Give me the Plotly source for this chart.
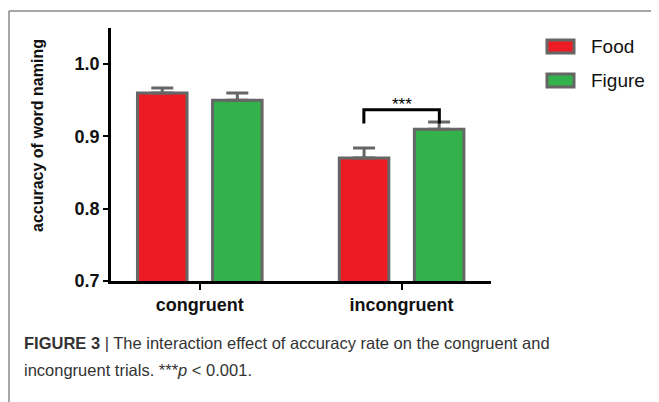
import plotly.graph_objects as go

# ---- data ----
categories = ["congruent", "incongruent"]
food_values = [0.96, 0.87]
food_errors = [0.007, 0.014]
figure_values = [0.95, 0.91]
figure_errors = [0.010, 0.010]
y_ticks = [0.7, 0.8, 0.9, 1.0]
y_tick_labels = ["0.7", "0.8", "0.9", "1.0"]

PAGE_W, PAGE_H = 659, 402
OFF = 8  # default page body margin
W, H = PAGE_W - OFF, PAGE_H - OFF
L, R, T, B = 111, 491, 28, 281  # plot area bounds in page pixels

def px(x):
    return (x - L) / (R - L)

def py(y):
    return (B - y) / (B - T)

RED = "#ED1C24"
GREEN = "#33B24B"
EDGE = "#666666"
FONT = "Liberation Sans, Arial, sans-serif"

xpos = list(range(len(categories)))

fig = go.Figure()
fig.add_trace(go.Bar(
    x=xpos, y=food_values, name="Food",
    marker=dict(color=RED, line=dict(color=EDGE, width=3)),
    error_y=dict(type="data", array=food_errors, arrayminus=[0] * len(food_errors),
                 symmetric=False, color=EDGE, thickness=3, width=11),
    showlegend=False,
))
fig.add_trace(go.Bar(
    x=xpos, y=figure_values, name="Figure",
    marker=dict(color=GREEN, line=dict(color=EDGE, width=3)),
    error_y=dict(type="data", array=figure_errors, arrayminus=[0] * len(figure_errors),
                 symmetric=False, color=EDGE, thickness=3, width=11),
    showlegend=False,
))

fig.update_layout(
    width=W, height=H,
    margin=dict(l=L - OFF, r=PAGE_W - R, t=T - OFF, b=PAGE_H - B, pad=0),
    paper_bgcolor="white", plot_bgcolor="white",
    barmode="group", bargap=0.256, bargroupgap=0.34,
    font=dict(family=FONT, color="#111111"),
)
fig.update_xaxes(
    range=[-0.44, 1.443], tickmode="array", tickvals=xpos, ticktext=categories,
    showline=True, linecolor="black", linewidth=2.5, showgrid=False, zeroline=False,
    ticks="outside", ticklen=6, tickwidth=2, tickcolor="black",
    tickfont=dict(size=18, family=FONT, color="#111111", weight="bold"),
)
fig.update_yaxes(
    range=[0.7, 1.05], tickmode="array", tickvals=y_ticks, ticktext=y_tick_labels,
    showline=True, linecolor="black", linewidth=2.5, showgrid=False, zeroline=False,
    ticks="outside", ticklen=5, tickwidth=2, tickcolor="black",
    tickfont=dict(size=18, family=FONT, color="#111111", weight="bold"),
)

# significance bracket between incongruent bars
i = 1
fig.add_shape(type="path",
              path=f"M {i-0.187},0.918 L {i-0.187},0.9368 L {i+0.187},0.9368 L {i+0.187},0.918",
              xref="x", yref="y", line=dict(color="black", width=3))
fig.add_annotation(x=i, y=0.9368, xref="x", yref="y", text="***", showarrow=False,
                   xanchor="center", yanchor="bottom", yshift=-6,
                   font=dict(size=17, family=FONT, color="black"))

# y axis title
fig.add_annotation(x=px(37), y=py(136), xref="paper", yref="paper",
                   xanchor="center", yanchor="middle",
                   text="<b>accuracy of word naming</b>", textangle=-90, showarrow=False,
                   font=dict(size=16, family=FONT, color="#111111"))

# legend (manual)
for name, col, yc in [("Food", RED, 46.5), ("Figure", GREEN, 80.5)]:
    fig.add_shape(type="rect", xref="paper", yref="paper",
                  x0=px(547), x1=px(574), y0=py(yc - 6.5), y1=py(yc + 6.5),
                  fillcolor=col, line=dict(color=EDGE, width=3))
    fig.add_annotation(x=px(589), y=py(yc), xref="paper", yref="paper", text=name,
                       showarrow=False, xanchor="left", yanchor="middle",
                       font=dict(size=19, family=FONT, color="#111111"))

# frame
fig.add_shape(type="line", xref="paper", yref="paper",
              x0=px(9), x1=px(9), y0=py(11), y1=py(PAGE_H), line=dict(color="#8a8a8a", width=1.5))
fig.add_shape(type="line", xref="paper", yref="paper",
              x0=px(9), x1=px(PAGE_W), y0=py(11), y1=py(11), line=dict(color="#8a8a8a", width=1.5))

# caption
fig.add_annotation(x=px(22), y=py(343), xref="paper", yref="paper", xanchor="left", yanchor="middle",
                   text="<b>FIGURE 3</b> | The interaction effect of accuracy rate on the congruent and",
                   showarrow=False, font=dict(size=16.5, family=FONT, color="#333333"))
fig.add_annotation(x=px(22), y=py(370), xref="paper", yref="paper", xanchor="left", yanchor="middle",
                   text="incongruent trials. ***<i>p</i> < 0.001.",
                   showarrow=False, font=dict(size=16.5, family=FONT, color="#333333"))

fig.write_html("out.html")
